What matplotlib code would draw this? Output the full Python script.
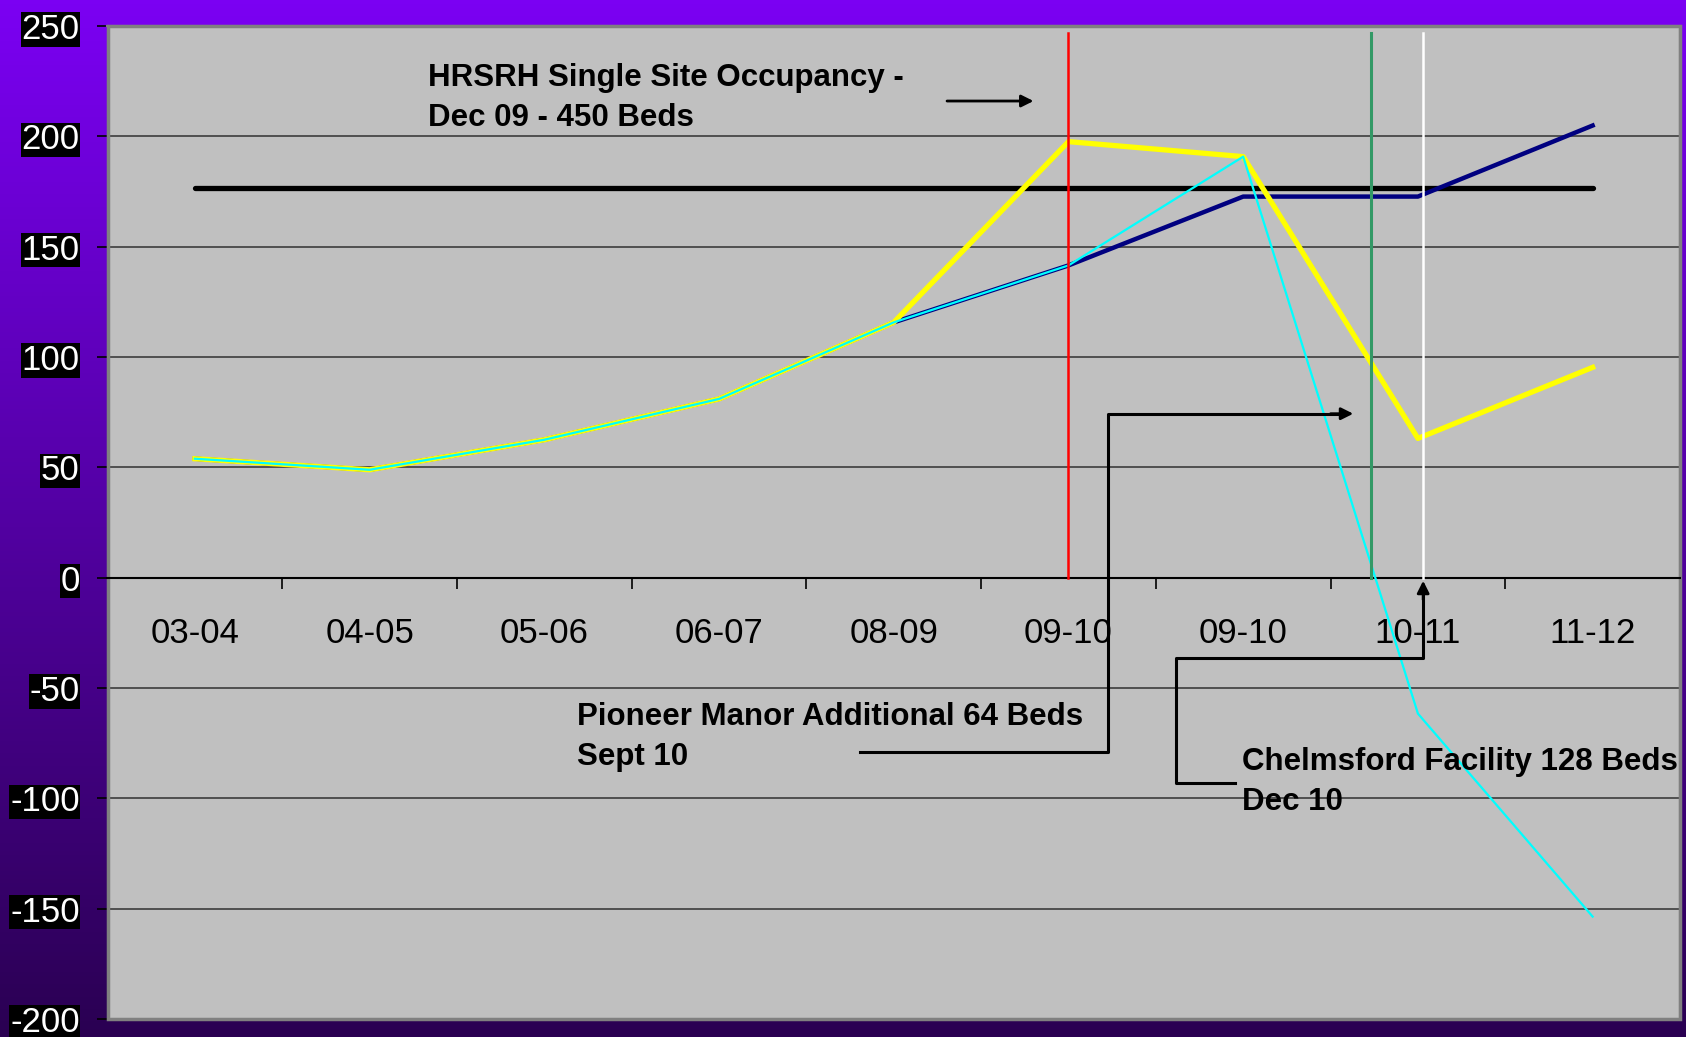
import numpy as np
import matplotlib
matplotlib.use("Agg")
import matplotlib.pyplot as plt
from matplotlib.patches import Rectangle
from matplotlib.colors import LinearSegmentedColormap

# ---- data ----
categories = ['03-04', '04-05', '05-06', '06-07', '08-09', '09-10', '09-10', '10-11', '11-12']
yellow_vals = [53.9, 48.9, 62.5, 81, 115.7, 197.6, 190.8, 63.1, 95.3]
cyan_vals = [53.9, 48.9, 62.5, 81, 115.7, 141.5, 190.8, -61.6, -153.6]
navy_vals = [53.9, 48.9, 62.5, 81, 115.7, 141.5, 172.7, 172.7, 204.9]
capacity_vals = [176.6] * 9
yticks = [-200, -150, -100, -50, 0, 50, 100, 150, 200, 250]

plt.rcParams['font.family'] = ['Liberation Sans', 'DejaVu Sans']
plt.rcParams['axes.unicode_minus'] = False

W, H = 1686, 1037
fig = plt.figure(figsize=(W / 100, H / 100), dpi=100)

# gradient background
bg = fig.add_axes([0, 0, 1, 1], zorder=-10)
cmap = LinearSegmentedColormap.from_list('bgp', ['#2a0052', '#7b00f3'])
grad = np.linspace(0, 1, 256).reshape(-1, 1)
bg.imshow(grad, aspect='auto', cmap=cmap, origin='lower', extent=[0, 1, 0, 1])
bg.set_axis_off()

left, right, top, bottom = 107.5, 1680, 26, 1019
ax = fig.add_axes([left / W, (H - bottom) / H, (right - left) / W, (bottom - top) / H])
ax.set_facecolor('#c0c0c0')
x = np.arange(len(categories))
ax.set_xlim(-0.5, len(categories) - 0.5)
ax.set_ylim(-200, 250)

# grid
ax.set_yticks(yticks)
ax.yaxis.grid(True, color='#3c3c3c', lw=1.2, zorder=0)
ax.set_axisbelow(True)

# series
ax.plot(x, capacity_vals, color='black', lw=3.8, solid_capstyle='round', zorder=2)
ax.plot(x, navy_vals, color='#000080', lw=3.2, zorder=3)
ax.plot(x, yellow_vals, color='#ffff00', lw=3.8, zorder=4)
ax.plot(x, cyan_vals, color='#00ffff', lw=1.6, zorder=5)

# vertical markers
ax.plot([5, 5], [0, 247], color='#ff0000', lw=1.8, zorder=6)
ax.plot([6.73, 6.73], [0, 247], color='#339966', lw=2.2, zorder=6)
ax.plot([7.03, 7.03], [0, 247], color='white', lw=1.8, zorder=6)

# axes styling
for s in ['top', 'right', 'left']:
    ax.spines[s].set_color('#808080')
    ax.spines[s].set_linewidth(1.5)
ax.spines['bottom'].set_position(('data', 0))
ax.spines['bottom'].set_color('black')
ax.spines['bottom'].set_linewidth(1.5)
ax.add_patch(Rectangle((0, 0), 1, 1, transform=ax.transAxes, fill=False,
                       edgecolor='#808080', lw=2.5, clip_on=False, zorder=1))

ax.set_xticks(np.arange(0.5, len(categories) - 1, 1))
ax.set_xticklabels([])
ax.tick_params(axis='x', which='major', length=8, width=1.2, color='black', direction='out')
ax.set_xticks(x, minor=True)
ax.set_xticklabels(categories, minor=True)
ax.tick_params(axis='x', which='minor', length=0, pad=28.5, labelsize=25, labelcolor='black')

ax.tick_params(axis='y', length=8, width=1.2, color='black', direction='out', pad=12,
               labelsize=25, labelcolor='white')
for lab in ax.get_yticklabels():
    lab.set_bbox(dict(facecolor='black', edgecolor='none', pad=0.5))

# annotations
fs = 22.5
ls = 1.42
ax.text(1.335, 217.5, 'HRSRH Single Site Occupancy -\nDec 09 - 450 Beds', fontsize=fs,
        fontweight='bold', ha='left', va='center', linespacing=ls, zorder=8)
ax.annotate('', xy=(4.80, 216), xytext=(4.305, 216),
            arrowprops=dict(arrowstyle='-|>', color='black', lw=2, mutation_scale=18,
                            shrinkA=0, shrinkB=0), zorder=8)

ax.text(2.188, -72.2, 'Pioneer Manor Additional 64 Beds\nSept 10', fontsize=fs,
        fontweight='bold', ha='left', va='center', linespacing=ls, zorder=8)
ax.plot([3.808, 5.228, 5.228, 6.55], [-78.8, -78.8, 74.3, 74.3], color='black', lw=2.2, zorder=7)
ax.annotate('', xy=(6.63, 74.3), xytext=(6.5, 74.3),
            arrowprops=dict(arrowstyle='-|>', color='black', lw=2, mutation_scale=18,
                            shrinkA=0, shrinkB=0), zorder=8)

ax.text(5.995, -92.5, 'Chelmsford Facility 128 Beds\nDec 10', fontsize=fs,
        fontweight='bold', ha='left', va='center', linespacing=ls, zorder=8)
ax.plot([5.955, 5.617, 5.617, 7.03, 7.03], [-92.9, -92.9, -36.2, -36.2, -6], color='black',
        lw=2.2, zorder=7)
ax.annotate('', xy=(7.03, -1.4), xytext=(7.03, -10),
            arrowprops=dict(arrowstyle='-|>', color='black', lw=2, mutation_scale=18,
                            shrinkA=0, shrinkB=0), zorder=8)

fig.savefig('out.png', dpi=100)
